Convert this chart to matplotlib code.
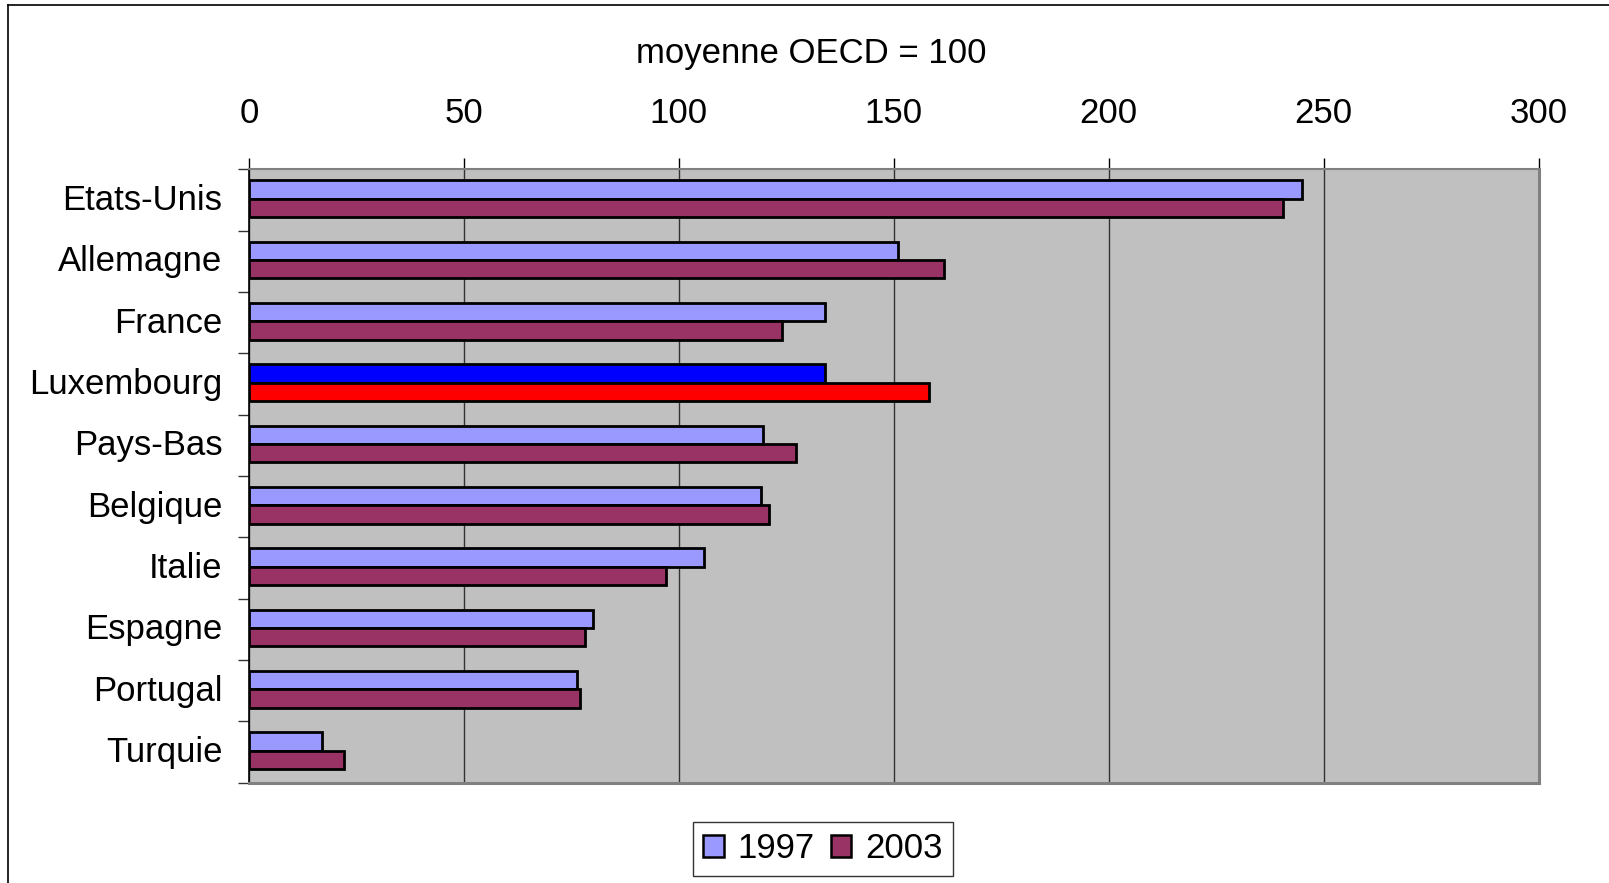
import matplotlib
matplotlib.use("Agg")
import matplotlib.pyplot as plt
from matplotlib.lines import Line2D
from matplotlib.patches import Patch
from matplotlib.transforms import ScaledTranslation
import numpy as np

plt.rcParams['font.family'] = ['Liberation Sans', 'DejaVu Sans']

countries = ["Etats-Unis", "Allemagne", "France", "Luxembourg", "Pays-Bas",
             "Belgique", "Italie", "Espagne", "Portugal", "Turquie"]
v1997 = [244.9, 150.9, 134.1, 134.1, 119.6, 119.0, 105.8, 80.0, 76.2, 17.0]
v2003 = [240.5, 161.8, 124.0, 158.2, 127.2, 120.9, 97.0, 78.1, 76.9, 22.1]
xticks = [0, 50, 100, 150, 200, 250, 300]
title = "moyenne OECD = 100"
series = ["1997", "2003"]

c1997, c2003 = "#9999FF", "#993366"
lux1997, lux2003 = "#0000FF", "#FF0000"

W, H = 1609, 883
fig = plt.figure(figsize=(W / 100, H / 100), dpi=100)
ax = fig.add_axes([249 / W, 1 - 782.5 / H, (1538.5 - 249) / W, (782.5 - 169.3) / H])
ax.set_facecolor("#C0C0C0")

y = np.arange(len(countries))
cols1 = [lux1997 if c == "Luxembourg" else c1997 for c in countries]
cols2 = [lux2003 if c == "Luxembourg" else c2003 for c in countries]
bh = 0.3
ax.barh(y - 0.02 - bh / 2, v1997, height=bh, color=cols1, edgecolor="black", linewidth=2.0, zorder=3)
ax.barh(y - 0.02 + bh / 2, v2003, height=bh, color=cols2, edgecolor="black", linewidth=2.0, zorder=3)

ax.set_xlim(0, 300)
ax.set_ylim(len(countries) - 0.5, -0.5)

ax.xaxis.tick_top()
ax.set_xticks(xticks)
ax.set_xticklabels([str(t) for t in xticks], fontsize=25)
ax.tick_params(axis="x", direction="out", length=8, width=1, color="black", pad=20)
ax.grid(axis="x", color="#333333", linewidth=1, zorder=1)
ax.set_axisbelow(True)

ax.set_yticks(y)
ax.set_yticklabels(countries, fontsize=25)
ax.tick_params(axis="y", which="major", length=0, pad=19)
ax.set_yticks(np.arange(len(countries) + 1) - 0.5, minor=True)
ax.tick_params(axis="y", which="minor", direction="out", length=8, width=1, color="#333333")
shift = ScaledTranslation(0, 3 / 100, fig.dpi_scale_trans)
for lab in ax.get_yticklabels():
    lab.set_transform(lab.get_transform() + shift)

ax.spines["left"].set_color("black")
ax.spines["left"].set_linewidth(1.2)
ax.spines["top"].set_color("#808080")
ax.spines["top"].set_linewidth(1.5)
ax.spines["right"].set_color("#808080")
ax.spines["right"].set_linewidth(2.2)
ax.spines["bottom"].set_color("#808080")
ax.spines["bottom"].set_linewidth(2.2)
for s in ax.spines.values():
    s.set_zorder(4)

fig.text(811 / W, 1 - 54 / H, title, fontsize=25, ha="center", va="center")

handles = [Patch(facecolor=c1997, edgecolor="black", linewidth=1.8),
           Patch(facecolor=c2003, edgecolor="black", linewidth=1.8)]
leg = fig.legend(handles, series, loc="upper center", bbox_to_anchor=(823 / W, 1 - 822 / H),
                 ncol=2, fontsize=25, frameon=True, fancybox=False, shadow=False,
                 handlelength=0.6, handleheight=0.6, handletextpad=0.4, columnspacing=0.45,
                 borderpad=0.3, borderaxespad=0)
leg.get_frame().set_edgecolor("black")
leg.get_frame().set_linewidth(1)

# chart border
fig.add_artist(Line2D([8 / W, 1], [1 - 5 / H, 1 - 5 / H], transform=fig.transFigure, color="black", linewidth=1.2))
fig.add_artist(Line2D([8 / W, 8 / W], [0, 1 - 5 / H], transform=fig.transFigure, color="black", linewidth=1.2))

fig.savefig("out.png", dpi=100)
